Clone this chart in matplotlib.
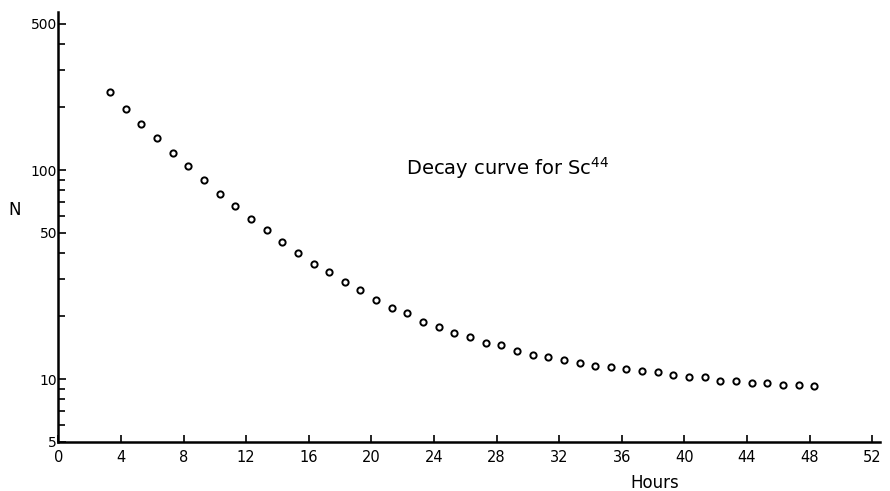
import matplotlib
matplotlib.use('Agg')
import matplotlib.pyplot as plt
from matplotlib.ticker import FixedLocator, NullFormatter
import numpy as np

# hours after start (one reading per hour)
hours = [3.3, 4.3, 5.3, 6.3, 7.3, 8.3, 9.3, 10.3, 11.3, 12.3,
         13.3, 14.3, 15.3, 16.3, 17.3, 18.3, 19.3, 20.3, 21.3, 22.3,
         23.3, 24.3, 25.3, 26.3, 27.3, 28.3, 29.3, 30.3, 31.3, 32.3,
         33.3, 34.3, 35.3, 36.3, 37.3, 38.3, 39.3, 40.3, 41.3, 42.3,
         43.3, 44.3, 45.3, 46.3, 47.3, 48.3]
# counts N
counts = [236, 195, 166, 142, 121, 104, 89.7, 77.1, 67.1, 58.5,
          51.7, 45.3, 40.0, 35.6, 32.5, 29.2, 26.6, 23.8, 21.9, 20.7,
          18.8, 17.7, 16.6, 15.9, 14.9, 14.5, 13.6, 13.1, 12.8, 12.4,
          12.0, 11.6, 11.4, 11.2, 10.9, 10.8, 10.5, 10.2, 10.2, 9.8,
          9.8, 9.6, 9.55, 9.4, 9.4, 9.3]

x_ticks = [0, 4, 8, 12, 16, 20, 24, 28, 32, 36, 40, 44, 48, 52]
y_major = [5, 10, 50, 100, 500]
y_minor = [6, 7, 8, 9, 20, 30, 40, 60, 70, 80, 90, 200, 300, 400]

fig = plt.figure(figsize=(8.9, 4.91), dpi=100)
ax = fig.add_axes([0.0657, 0.0998, 0.923, 0.8758])

ax.plot(hours, counts, 'o', mfc='white', mec='black', ms=4.5, mew=1.4)

ax.set_yscale('log')
ax.set_xlim(0, 52.5)
ax.set_ylim(5, 570)

for s in ('top', 'right'):
    ax.spines[s].set_visible(False)
for s in ('left', 'bottom'):
    ax.spines[s].set_linewidth(1.8)

ax.xaxis.set_major_locator(FixedLocator(x_ticks))
ax.set_xticklabels([str(t) for t in x_ticks], fontsize=10.5)
ax.yaxis.set_major_locator(FixedLocator(y_major))
ax.yaxis.set_minor_locator(FixedLocator(y_minor))
ax.yaxis.set_minor_formatter(NullFormatter())
ax.set_yticklabels([str(t) for t in y_major], fontsize=10)

ax.tick_params(axis='x', direction='in', length=5, width=1.2, pad=6)
ax.tick_params(axis='y', which='major', direction='in', length=6, width=1.2, pad=1)
ax.tick_params(axis='y', which='minor', direction='in', length=5, width=1.2)

ax.text(22.2, 94.7, r'Decay curve for Sc$^{44}$', fontsize=14,
        va='baseline', ha='left')

fig.text(15 / 890, 1 - 210 / 491, 'N', fontsize=12, ha='center', va='center')
fig.text(655 / 890, 1 - 483 / 491, 'Hours', fontsize=12, ha='center', va='center')

plt.savefig('out.png', dpi=100)
